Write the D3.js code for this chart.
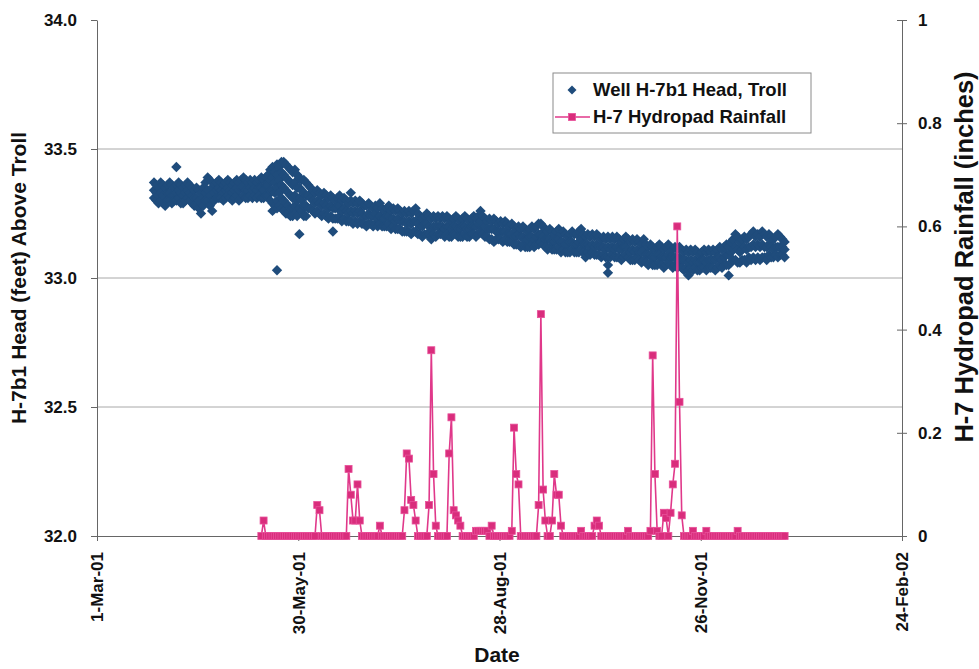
<!DOCTYPE html>
<html><head><meta charset="utf-8">
<script src="https://cdn.jsdelivr.net/npm/d3@7"></script>
<style>body{margin:0;background:#fff}</style>
</head><body><svg id="c" width="979" height="669"></svg>
<script>
// ---------- DATA ----------
const xTickDates = ["2001-03-01","2001-05-30","2001-08-28","2001-11-26","2002-02-24"];
const leftTicks = [32.0, 32.5, 33.0, 33.5, 34.0];
const rightTicks = [0, 0.2, 0.4, 0.6, 0.8, 1];
const seriesNames = ["Well H-7b1 Head, Troll", "H-7 Hydropad Rainfall"];

// Well head (feet): [day of month, readings...]
const headMar2001 = [[26,33.37,33.34,33.31],[27,33.36,33.33,33.30],[28,33.35,33.32,33.29],[29,33.37,33.33,33.30],[30,33.36,33.32,33.29],[31,33.35,33.31,33.28]];
const headApr2001 = [[1,33.36,33.33,33.30],[2,33.37,33.33,33.30],[3,33.36,33.32,33.29],[4,33.35,33.32,33.30],[5,33.43,33.36,33.33,33.30],[6,33.37,33.34,33.31],[7,33.36,33.33,33.29],[8,33.35,33.32,33.29],[9,33.36,33.33,33.30],[10,33.37,33.34,33.31],
[11,33.36,33.33,33.30],[12,33.35,33.32,33.29],[13,33.34,33.31,33.28],[14,33.35,33.31,33.28],[15,33.34,33.30,33.27],[16,33.33,33.29,33.25],[17,33.35,33.31,33.28],[18,33.37,33.33,33.30],[19,33.39,33.34,33.30],[20,33.38,33.32,33.28],
[21,33.35,33.30,33.26],[22,33.36,33.33,33.30],[23,33.37,33.34,33.31],[24,33.38,33.35,33.31],[25,33.37,33.34,33.31],[26,33.36,33.33,33.30],[27,33.37,33.34,33.31],[28,33.38,33.35,33.32],[29,33.37,33.34,33.31],[30,33.36,33.33,33.30]];
const headMay2001 = [[1,33.37,33.34,33.31],[2,33.38,33.35,33.32],[3,33.37,33.34,33.30],[4,33.38,33.35,33.31],[5,33.39,33.35,33.32],[6,33.38,33.34,33.31],[7,33.37,33.34,33.31],[8,33.38,33.35,33.32],[9,33.37,33.34,33.31],[10,33.38,33.35,33.32],
[11,33.37,33.34,33.31],[12,33.38,33.35,33.32],[13,33.39,33.35,33.31],[14,33.38,33.34,33.31],[15,33.39,33.36,33.32],[16,33.40,33.36,33.32],[17,33.42,33.38,33.34,33.30],[18,33.43,33.39,33.34,33.29,33.26],[19,33.41,33.37,33.33,33.28],[20,33.44,33.40,33.35,33.30,33.27,33.03],
[21,33.43,33.38,33.33,33.28],[22,33.45,33.41,33.36,33.31,33.27],[23,33.45,33.40,33.35,33.30,33.26],[24,33.44,33.39,33.34,33.29,33.25],[25,33.43,33.38,33.33,33.28,33.25],[26,33.42,33.37,33.32,33.27,33.24],[27,33.41,33.36,33.31,33.27,33.24],[28,33.42,33.37,33.32,33.28],[29,33.40,33.35,33.30,33.26,33.24],[30,33.39,33.35,33.31,33.27,33.17],[31,33.38,33.34,33.30,33.26]];
const headJun2001 = [[1,33.38,33.33,33.28,33.24],[2,33.37,33.32,33.28,33.24],[3,33.36,33.32,33.27],[4,33.35,33.31,33.27],[5,33.34,33.30,33.26],[6,33.33,33.29,33.25],[7,33.34,33.30,33.26],[8,33.33,33.29,33.25],[9,33.32,33.28,33.24],[10,33.33,33.29,33.25],
[11,33.32,33.28,33.24],[12,33.31,33.27,33.23],[13,33.32,33.28,33.24],[14,33.31,33.27,33.23,33.18],[15,33.30,33.27,33.23],[16,33.31,33.27,33.23],[17,33.32,33.28,33.24],[18,33.30,33.26,33.22],[19,33.31,33.27,33.23],[20,33.30,33.26,33.22],
[21,33.29,33.25,33.22],[22,33.33,33.30,33.26,33.22],[23,33.29,33.25,33.21],[24,33.30,33.26,33.22],[25,33.29,33.25,33.21],[26,33.30,33.26,33.22],[27,33.29,33.25,33.21],[28,33.28,33.24,33.21],[29,33.28,33.24,33.20],[30,33.29,33.25,33.21]];
const headJul2001 = [[1,33.28,33.24,33.21],[2,33.27,33.24,33.20],[3,33.28,33.25,33.21],[4,33.27,33.23,33.20],[5,33.29,33.24,33.21],[6,33.27,33.23,33.20],[7,33.26,33.23,33.20],[8,33.27,33.24,33.20],[9,33.28,33.24,33.21],[10,33.26,33.23,33.19],
[11,33.27,33.23,33.20],[12,33.26,33.22,33.19],[13,33.27,33.23,33.19],[14,33.26,33.22,33.19],[15,33.25,33.22,33.18],[16,33.26,33.22,33.18],[17,33.25,33.21,33.18],[18,33.26,33.22,33.18],[19,33.25,33.21,33.17],[20,33.26,33.22,33.18],
[21,33.27,33.22,33.18],[22,33.25,33.21,33.17],[23,33.24,33.20,33.17],[24,33.23,33.20,33.16],[25,33.24,33.21,33.17],[26,33.25,33.21,33.17],[27,33.24,33.20,33.17],[28,33.23,33.19,33.16,33.15],[29,33.24,33.20,33.17],[30,33.23,33.20,33.16],[31,33.24,33.20,33.17]];
const headAug2001 = [[1,33.23,33.20,33.17],[2,33.24,33.20,33.17],[3,33.23,33.19,33.16],[4,33.24,33.20,33.17],[5,33.23,33.20,33.16],[6,33.22,33.19,33.16],[7,33.23,33.20,33.17],[8,33.24,33.20,33.17],[9,33.23,33.19,33.16],[10,33.22,33.19,33.16],
[11,33.23,33.20,33.16],[12,33.24,33.20,33.17],[13,33.23,33.19,33.16],[14,33.22,33.19,33.16],[15,33.23,33.20,33.17],[16,33.24,33.20,33.17],[17,33.23,33.20,33.16],[18,33.24,33.21,33.17],[19,33.26,33.22,33.18],[20,33.24,33.20,33.17],
[21,33.23,33.20,33.16],[22,33.22,33.19,33.16],[23,33.23,33.19,33.15],[24,33.22,33.19,33.15],[25,33.23,33.19,33.14],[26,33.22,33.18,33.15],[27,33.21,33.18,33.15],[28,33.22,33.18,33.15],[29,33.21,33.18,33.14],[30,33.22,33.18,33.15],[31,33.21,33.17,33.14]];
const headSep2001 = [[1,33.20,33.17,33.14],[2,33.21,33.17,33.14],[3,33.20,33.16,33.13],[4,33.19,33.16,33.13],[5,33.20,33.17,33.13],[6,33.19,33.16,33.12],[7,33.20,33.16,33.13],[8,33.19,33.15,33.12],[9,33.18,33.15,33.12],[10,33.19,33.16,33.12],
[11,33.20,33.16,33.13],[12,33.19,33.15,33.12],[13,33.20,33.16,33.13],[14,33.21,33.17,33.13],[15,33.21,33.17,33.14],[16,33.20,33.16,33.13],[17,33.19,33.15,33.12],[18,33.18,33.15,33.11],[19,33.19,33.15,33.12],[20,33.18,33.14,33.11],
[21,33.17,33.14,33.11],[22,33.18,33.15,33.11],[23,33.19,33.15,33.12],[24,33.17,33.14,33.10],[25,33.18,33.14,33.11],[26,33.17,33.13,33.10],[27,33.16,33.13,33.10],[28,33.17,33.14,33.10],[29,33.18,33.14,33.11],[30,33.17,33.13,33.10]];
const headOct2001 = [[1,33.17,33.13,33.10],[2,33.18,33.14,33.10],[3,33.19,33.15,33.11],[4,33.17,33.13,33.10],[5,33.16,33.13,33.09,33.08],[6,33.17,33.13,33.10],[7,33.16,33.12,33.09],[8,33.17,33.13,33.10],[9,33.16,33.12,33.09],[10,33.17,33.13,33.09],
[11,33.16,33.12,33.09],[12,33.15,33.12,33.08],[13,33.16,33.12,33.09],[14,33.15,33.11,33.08],[15,33.16,33.12,33.08,33.05,33.02],[16,33.15,33.11,33.08],[17,33.16,33.12,33.09],[18,33.15,33.11,33.08],[19,33.16,33.12,33.08],[20,33.15,33.11,33.08],
[21,33.14,33.11,33.07],[22,33.15,33.12,33.08],[23,33.16,33.12,33.09],[24,33.15,33.11,33.08],[25,33.14,33.10,33.07],[26,33.15,33.11,33.07],[27,33.14,33.10,33.07],[28,33.15,33.11,33.08],[29,33.14,33.10,33.07],[30,33.13,33.10,33.06],[31,33.15,33.11,33.07]];
const headNov2001 = [[1,33.13,33.09,33.06],[2,33.12,33.09,33.05],[3,33.13,33.09,33.06],[4,33.12,33.08,33.05],[5,33.11,33.08,33.05],[6,33.12,33.09,33.05],[7,33.13,33.09,33.06],[8,33.12,33.08,33.05],[9,33.11,33.08,33.04],[10,33.12,33.08,33.05],
[11,33.13,33.09,33.06],[12,33.12,33.08,33.05],[13,33.11,33.08,33.04],[14,33.12,33.08,33.05],[15,33.11,33.07,33.04],[16,33.12,33.08,33.05],[17,33.11,33.07,33.04],[18,33.10,33.07,33.03],[19,33.11,33.07,33.04],[20,33.10,33.06,33.03,33.01],
[21,33.11,33.07,33.04],[22,33.10,33.06,33.03],[23,33.11,33.07,33.04],[24,33.10,33.06,33.03],[25,33.09,33.06,33.03],[26,33.10,33.07,33.04],[27,33.11,33.07,33.04],[28,33.10,33.06,33.03],[29,33.11,33.07,33.04],[30,33.10,33.07,33.04]];
const headDec2001 = [[1,33.11,33.07,33.04],[2,33.10,33.07,33.03],[3,33.11,33.08,33.04],[4,33.12,33.08,33.05],[5,33.11,33.07,33.04],[6,33.12,33.08,33.05],[7,33.13,33.09,33.05],[8,33.12,33.09,33.05,33.01],[9,33.14,33.10,33.06],[10,33.15,33.11,33.07],
[11,33.17,33.12,33.07],[12,33.16,33.11,33.06],[13,33.14,33.10,33.06],[14,33.15,33.11,33.07],[15,33.16,33.12,33.07],[16,33.15,33.11,33.06],[17,33.16,33.12,33.08],[18,33.17,33.12,33.07],[19,33.18,33.13,33.08],[20,33.16,33.12,33.07],
[21,33.17,33.13,33.08],[22,33.16,33.12,33.07],[23,33.18,33.13,33.08],[24,33.17,33.12,33.08],[25,33.16,33.12,33.07],[26,33.17,33.13,33.09],[27,33.16,33.12,33.08],[28,33.15,33.11,33.08],[29,33.16,33.12,33.09],[30,33.17,33.12,33.08],[31,33.16,33.12,33.09]];
const headJan2002 = [[1,33.15,33.12,33.09],[2,33.14,33.11,33.08]];

// Daily rainfall (inches)
const rainMay2001 = [0,0.03,0,0,0,0,0,0,0,0,0,0,0,0,0,0,0,0,0]; // 13..31 May
const rainJun2001 = [0,0,0,0,0,0,0.06,0.05,0,0, 0,0,0,0,0,0,0,0,0,0, 0.13,0.08,0.03,0.03,0.10,0.03,0,0,0,0];
const rainJul2001 = [0,0,0,0,0.02,0,0,0,0,0, 0,0,0,0,0,0.05,0.16,0.15,0.07,0.06, 0.03,0,0,0,0,0,0.06,0.36,0.12,0.02, 0];
const rainAug2001 = [0,0,0,0,0.16,0.23,0.05,0.04,0.03,0.02, 0,0,0,0,0,0,0.01,0.01,0.01,0.01, 0.01,0.01,0,0.02,0,0,0,0,0,0, 0];
const rainSep2001 = [0,0.01,0.21,0.12,0.10,0,0,0,0,0, 0,0,0,0.06,0.43,0.09,0.03,0,0,0.03, 0.12,0.08,0.08,0.02,0,0,0,0,0,0];
const rainOct2001 = [0,0,0.01,0,0,0,0,0,0.02,0.03, 0.02,0,0,0,0,0,0,0,0,0, 0,0,0,0.01,0,0,0,0,0,0, 0];
const rainNov2001 = [0,0,0.01,0.35,0.12,0.01,0,0,0.045,0.035, 0,0.045,0.10,0.14,0.60,0.26,0.04,0,0,0, 0,0.01,0,0,0,0,0,0.01,0,0];
const rainDec2001 = [0,0,0,0,0,0,0,0,0,0, 0,0.01,0,0,0,0,0,0,0,0, 0,0,0,0,0,0,0,0,0,0, 0];
const rainJan2002 = [0,0];

// ---------- BUILD ----------
const headMonths = [[2001,2,headMar2001],[2001,3,headApr2001],[2001,4,headMay2001],[2001,5,headJun2001],[2001,6,headJul2001],[2001,7,headAug2001],[2001,8,headSep2001],[2001,9,headOct2001],[2001,10,headNov2001],[2001,11,headDec2001],[2002,0,headJan2002]];
const headPts = [];
headMonths.forEach(([y,m,rows]) => rows.forEach(r => r.slice(1).forEach(v => headPts.push({date:new Date(y,m,r[0],12), v}))));
const rainMonths = [[2001,4,13,rainMay2001],[2001,5,1,rainJun2001],[2001,6,1,rainJul2001],[2001,7,1,rainAug2001],[2001,8,1,rainSep2001],[2001,9,1,rainOct2001],[2001,10,1,rainNov2001],[2001,11,1,rainDec2001],[2002,0,1,rainJan2002]];
const rainPts = [];
rainMonths.forEach(([y,m,s,vals]) => vals.forEach((v,i) => rainPts.push({date:new Date(y,m,s+i,12), v})));

const parse = d3.timeParse("%Y-%m-%d");
const L = 97, R = 902, T = 20, B = 536;
const svg = d3.select("#c");
const font = "'Liberation Sans', Arial, sans-serif";

const x = d3.scaleTime().domain([parse(xTickDates[0]), parse(xTickDates[4])]).range([L, R]);
const yL = d3.scaleLinear().domain([32, 34]).range([B, T]);
const yR = d3.scaleLinear().domain([0, 1]).range([B, T]);

// gridlines
svg.append("g").selectAll("line").data(leftTicks.filter(t => t > 32 && t < 34)).join("line")
  .attr("x1", L).attr("x2", R).attr("y1", d => yL(d)).attr("y2", d => yL(d))
  .attr("stroke", "#a8a8a8").attr("stroke-width", 1);

// axes
const axL = svg.append("g").attr("transform", `translate(${L},0)`)
  .call(d3.axisLeft(yL).tickValues(leftTicks).tickFormat(d3.format(".1f")).tickSize(6).tickSizeOuter(0).tickPadding(14));
const axR = svg.append("g").attr("transform", `translate(${R},0)`)
  .call(d3.axisRight(yR).tickValues(rightTicks).tickFormat(d3.format("~g")).tickSize(5).tickSizeOuter(0).tickPadding(11));
axR.selectAll(".tick line").attr("x1", -5);
const axX = svg.append("g").attr("transform", `translate(0,${B})`)
  .call(d3.axisBottom(x).tickValues(xTickDates.map(parse)).tickFormat(d3.timeFormat("%-d-%b-%y")).tickSize(5).tickSizeOuter(0));
axX.selectAll(".tick line").attr("y1", -4);
axX.selectAll(".tick text").attr("transform", "rotate(-90)").attr("x", -16).attr("y", 0).attr("dy", "0.35em").style("text-anchor", "end");
[axL, axR, axX].forEach(a => {
  a.select(".domain").attr("stroke", "#666");
  a.selectAll(".tick line").attr("stroke", "#666");
  a.selectAll(".tick text").attr("fill", "#111").style("font-family", font).style("font-weight", "bold").style("font-size", "17px");
});

// head scatter (diamonds)
const dia = r => `M0,${-r}L${r},0L0,${r}L${-r},0Z`;
svg.append("g").selectAll("path").data(headPts).join("path")
  .attr("d", dia(5.2)).attr("transform", d => `translate(${x(d.date)},${yL(d.v)})`)
  .attr("fill", "#1f4c7c");

// rainfall line + squares
const pink = "#e0388a";
svg.append("path").datum(rainPts)
  .attr("d", d3.line().x(d => x(d.date)).y(d => yR(d.v)))
  .attr("fill", "none").attr("stroke", pink).attr("stroke-width", 1.6);
svg.append("g").selectAll("rect").data(rainPts).join("rect")
  .attr("x", d => x(d.date) - 3.5).attr("y", d => yR(d.v) - 3.5).attr("width", 7).attr("height", 7)
  .attr("fill", "#d92d7c").attr("stroke", "#e8509a").attr("stroke-width", 0.8);

// axis titles
svg.append("text").attr("transform", `translate(26,278) rotate(-90)`).attr("text-anchor", "middle")
  .style("font-family", font).style("font-weight", "bold").style("font-size", "21px").attr("fill", "#111")
  .text("H-7b1 Head (feet) Above Troll");
svg.append("text").attr("transform", `translate(973,257) rotate(-90)`).attr("text-anchor", "middle")
  .style("font-family", font).style("font-weight", "bold").style("font-size", "25.5px").attr("fill", "#111")
  .text("H-7 Hydropad Rainfall (inches)");
svg.append("text").attr("x", 497).attr("y", 662).attr("text-anchor", "middle")
  .style("font-family", "'Liberation Sans Narrow', 'Liberation Sans', sans-serif").style("font-weight", "bold").style("font-size", "21px").attr("fill", "#111")
  .text("Date");

// legend
const lg = svg.append("g");
lg.append("rect").attr("x", 553).attr("y", 73).attr("width", 258).attr("height", 60).attr("fill", "#fff").attr("stroke", "#8a8a8a");
lg.append("path").attr("d", dia(4.5)).attr("transform", "translate(572,90)").attr("fill", "#1f4c7c");
lg.append("line").attr("x1", 555).attr("x2", 590).attr("y1", 117).attr("y2", 117).attr("stroke", pink).attr("stroke-width", 1.6);
lg.append("rect").attr("x", 568.5).attr("y", 113.5).attr("width", 7).attr("height", 7).attr("fill", "#d92d7c").attr("stroke", "#e8509a").attr("stroke-width", 0.8);
lg.selectAll("text.l").data(seriesNames).join("text").attr("class", "l")
  .attr("x", 593).attr("y", (d, i) => 96 + i * 27)
  .style("font-family", font).style("font-weight", "bold").style("font-size", "18.5px").attr("fill", "#111")
  .text(d => d);
</script></body></html>
